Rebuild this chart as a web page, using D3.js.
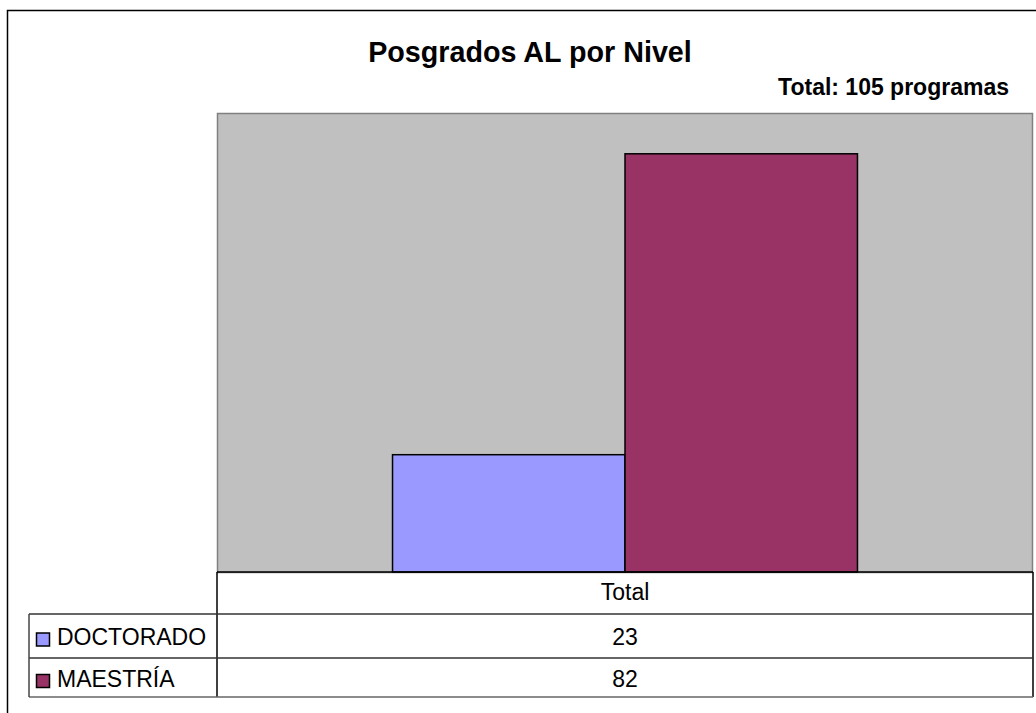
<!DOCTYPE HTML>
<html lang="es">
    <head>
        <meta charset="UTF-8">
        <style>
            body { margin: 0; background: #fff; }
            svg text { font-family: "Liberation Sans", Arial, sans-serif; fill: #000; }
            .title { font-size: 28.7px; font-weight: bold; }
            .subtitle { font-size: 23px; font-weight: bold; }
            .cell { font-size: 23px; }
        </style>
    </head>
    <body>
        <script src="https://d3js.org/d3.v7.min.js"></script>
        <script>
            var categories = ['Total'];
            var seriesNames = ['DOCTORADO', 'MAESTRÍA'];
            var seriesValues = [23, 82];
            var seriesColors = ['#9999FF', '#993366'];

            var svg = d3.select('body').append('svg').attr('width', 1036).attr('height', 713);

            // marco exterior (recortado a la derecha y abajo)
            svg.append('rect')
                .attr('x', 7.5).attr('y', 10.5)
                .attr('width', 1080).attr('height', 740)
                .attr('fill', '#fff').attr('stroke', '#000').attr('stroke-width', 1.5);

            var plot = { left: 217, right: 1033, top: 113, bottom: 572 };

            var x = d3.scaleBand().domain(categories).range([plot.left, plot.right]);
            // ancho de grupo = banda / 1.75 (gap 75%)
            var groupW = x.bandwidth() / 1.755;
            var xs = d3.scaleBand().domain(seriesNames)
                .range([(x.bandwidth() - groupW) / 2, (x.bandwidth() + groupW) / 2]).padding(0);
            var y = d3.scaleLinear().domain([0, 90]).range([plot.bottom, plot.top]);

            svg.append('rect')
                .attr('x', plot.left + 0.5).attr('y', plot.top + 0.5)
                .attr('width', plot.right - plot.left - 1).attr('height', plot.bottom - plot.top)
                .attr('fill', '#C0C0C0').attr('stroke', '#808080').attr('stroke-width', 1.5);

            var g = svg.append('g');
            categories.forEach(function(c) {
                g.selectAll('rect.bar')
                    .data(seriesValues).enter()
                    .append('rect')
                        .attr('class', 'bar')
                        .attr('x', function(d, i){ return x(c) + xs(seriesNames[i]); })
                        .attr('y', function(d){ return y(d); })
                        .attr('width', xs.bandwidth())
                        .attr('height', function(d){ return y(0) - y(d); })
                        .attr('fill', function(d, i){ return seriesColors[i]; })
                        .attr('stroke', '#000').attr('stroke-width', 1.5);
            });

            // tabla de datos
            var rowTop = [572, 614, 658, 697];
            var legendLeft = 29;
            var line = function(x1, y1, x2, y2, col) {
                svg.append('line').attr('x1', x1).attr('y1', y1).attr('x2', x2).attr('y2', y2)
                    .attr('stroke', col || '#000').attr('stroke-width', 1.5);
            };
            line(plot.left, plot.bottom, plot.right, plot.bottom);
            line(plot.left, rowTop[0], plot.left, rowTop[3]);
            line(plot.right, rowTop[0], plot.right, rowTop[3]);
            line(legendLeft, rowTop[1], plot.right, rowTop[1], '#333');
            line(legendLeft, rowTop[2], plot.right, rowTop[2], '#333');
            line(legendLeft, rowTop[3], plot.right, rowTop[3], '#666');
            line(legendLeft, rowTop[1], legendLeft, rowTop[3], '#444');

            categories.forEach(function(c) {
                svg.append('text').attr('class', 'cell')
                    .attr('x', x(c) + x.bandwidth() / 2).attr('y', 600)
                    .attr('text-anchor', 'middle').text(c);
            });

            seriesNames.forEach(function(s, i) {
                var cy = (rowTop[i + 1] + rowTop[i + 2]) / 2;
                svg.append('rect')
                    .attr('x', 36.5).attr('y', cy - 3)
                    .attr('width', 13).attr('height', 13)
                    .attr('fill', seriesColors[i]).attr('stroke', '#000').attr('stroke-width', 1.5);
                svg.append('text').attr('class', 'cell')
                    .attr('x', 57).attr('y', cy + 9).text(s);
                categories.forEach(function(c) {
                    svg.append('text').attr('class', 'cell')
                        .attr('x', x(c) + x.bandwidth() / 2).attr('y', cy + 9)
                        .attr('text-anchor', 'middle').text(seriesValues[i]);
                });
            });

            svg.append('text').attr('class', 'title')
                .attr('x', 530).attr('y', 62).attr('text-anchor', 'middle')
                .text('Posgrados AL por Nivel');
            svg.append('text').attr('class', 'subtitle')
                .attr('x', 1009).attr('y', 95).attr('text-anchor', 'end')
                .text('Total: ' + d3.sum(seriesValues) + ' programas');
        </script>
    </body>
</html>
